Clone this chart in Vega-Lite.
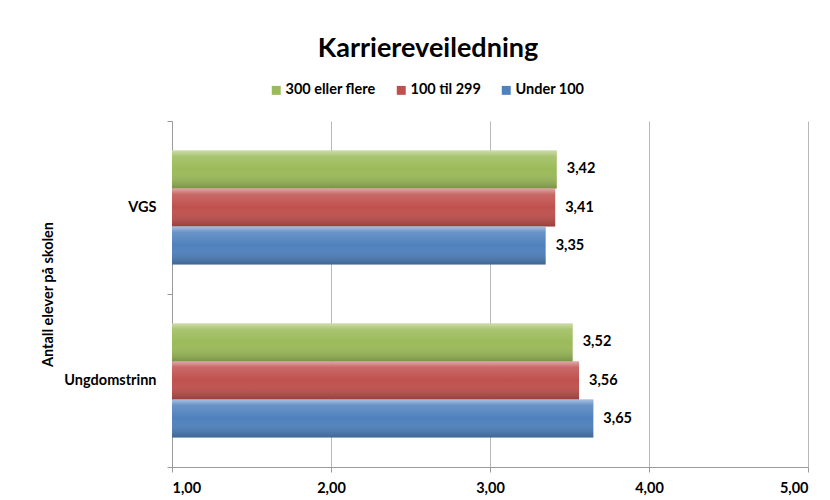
{
  "$schema": "https://vega.github.io/schema/vega-lite/v6.json",
  "width": 636,
  "height": 346,
  "autosize": {"type": "none"},
  "padding": {"left": 172, "top": 121, "right": 22, "bottom": 33},
  "background": "white",
  "title": {"text": "Karriereveiledning", "fontSize": 27, "font": "Lato", "fontWeight": "bold", "color": "black", "anchor": "middle", "dx": -62, "offset": 20},
  "data": {"values": [
    {"nivaa": "VGS", "gruppe": "300 eller flere", "verdi": 3.42},
    {"nivaa": "VGS", "gruppe": "100 til 299", "verdi": 3.41},
    {"nivaa": "VGS", "gruppe": "Under 100", "verdi": 3.35},
    {"nivaa": "Ungdomstrinn", "gruppe": "300 eller flere", "verdi": 3.52},
    {"nivaa": "Ungdomstrinn", "gruppe": "100 til 299", "verdi": 3.56},
    {"nivaa": "Ungdomstrinn", "gruppe": "Under 100", "verdi": 3.65}
  ]},
  "encoding": {
    "y": {"field": "nivaa", "type": "nominal", "sort": ["VGS", "Ungdomstrinn"],
      "scale": {"paddingInner": 0, "paddingOuter": 0},
      "axis": {"title": "Antall elever på skolen", "titleFont": "Lato", "titleFontSize": 14.5, "titleFontWeight": "bold", "titleColor": "black", "titlePadding": 8,
        "labelFont": "Lato", "labelFontSize": 14.5, "labelFontWeight": "bold", "labelColor": "black", "labelPadding": 11,
        "tickBand": "extent", "tickSize": 5, "tickColor": "#9a9a9a", "domainColor": "#9a9a9a", "grid": false}},
    "yOffset": {"field": "gruppe", "type": "nominal", "sort": ["300 eller flere", "100 til 299", "Under 100"],
      "scale": {"paddingInner": 0, "paddingOuter": 0.776}},
    "x": {"field": "verdi", "type": "quantitative",
      "scale": {"domain": [1, 5], "zero": false, "nice": false},
      "axis": {"title": null, "values": [1, 2, 3, 4, 5], "format": ".2f", "labelFont": "Lato", "labelFontSize": 14.5, "labelFontWeight": "bold", "labelColor": "black", "labelPadding": 9,
        "tickSize": 5, "tickColor": "#9a9a9a", "domainColor": "#9a9a9a", "grid": true, "gridColor": "#b8b8b8"}}
  },
  "layer": [
    {
      "mark": {"type": "bar"},
      "encoding": {
        "x2": {"datum": 1},
        "color": {"field": "gruppe", "type": "nominal",
          "scale": {"domain": ["300 eller flere", "100 til 299", "Under 100"], "range": ["#9BBB59", "#C0504D", "#4F81BD"]},
          "legend": {"title": null, "orient": "none", "legendX": 97, "legendY": -38, "direction": "horizontal", "symbolType": "square", "symbolSize": 80,
            "labelFont": "Lato", "labelFontSize": 14.5, "labelFontWeight": "bold", "labelColor": "black", "labelOffset": 2, "columnPadding": 18}}
      }
    },
    {
      "mark": {"type": "bar", "color": {"gradient": "linear", "x1": 0, "y1": 0, "x2": 0, "y2": 1,
        "stops": [
          {"offset": 0, "color": "rgba(255,255,255,0.5)"},
          {"offset": 0.15, "color": "rgba(255,255,255,0.15)"},
          {"offset": 0.5, "color": "rgba(255,255,255,0)"},
          {"offset": 1, "color": "rgba(0,0,0,0.22)"}
        ]}},
      "encoding": {"x2": {"datum": 1}}
    },
    {
      "mark": {"type": "text", "align": "left", "dx": 10, "font": "Lato", "fontSize": 14.5, "fontWeight": "bold", "color": "black"},
      "encoding": {"text": {"field": "verdi", "type": "quantitative", "format": ".2f"}}
    }
  ],
  "config": {
    "view": {"stroke": null},
    "locale": {"number": {"decimal": ",", "thousands": " ", "grouping": [3], "currency": ["", " kr"]}}
  }
}
